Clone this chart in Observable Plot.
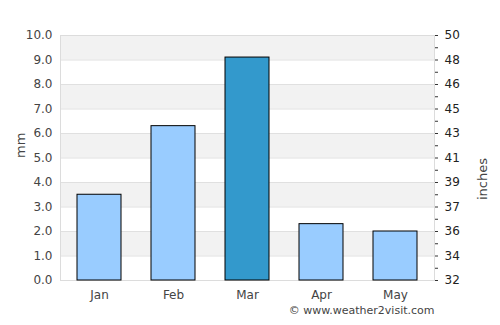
<!DOCTYPE html>
<html>
<head>
<meta charset="utf-8">
<script src="https://cdn.jsdelivr.net/npm/d3@7"></script>
<script src="https://cdn.jsdelivr.net/npm/@observablehq/plot@0.6"></script>
<style>
  html, body { margin: 0; padding: 0; background: #fff; }
  #chart { width: 500px; height: 325px; }
</style>
</head>
<body>
<div id="chart"></div>
<script>
const months = ["Jan", "Feb", "Mar", "Apr", "May"];
const rainfallMm = [3.5, 6.3, 9.1, 2.3, 2.0];
const highlightMonth = "Mar";
const mmTicks = [0, 1, 2, 3, 4, 5, 6, 7, 8, 9, 10];
const inchLabels = ["32", "34", "36", "37", "39", "41", "43", "45", "46", "48", "50"];
const minorTicks = [0.5, 1.5, 2.5, 3.5, 4.5, 5.5, 6.5, 7.5, 8.5, 9.5];
const copyright = "© www.weather2visit.com";

const data = months.map((m, i) => ({ month: m, mm: rainfallMm[i] }));
const bands = mmTicks.filter(t => t % 2 === 1).map(t => ({ y1: t, y2: t + 1 }));

const chart = Plot.plot({
  width: 500,
  height: 325,
  marginLeft: 60,
  marginRight: 66,
  marginTop: 35,
  marginBottom: 45,
  style: { fontFamily: "DejaVu Sans, sans-serif", fontSize: "12px", color: "#444", background: "#fff" },
  x: { domain: months, paddingInner: 0.4, paddingOuter: 0.2, label: null },
  y: { domain: [0, 10], label: null },
  marks: [
    Plot.rect(bands, { y1: "y1", y2: "y2", fill: "#f2f2f2" }),
    Plot.ruleY(mmTicks, { stroke: "#e0e0e0" }),
    Plot.frame({ stroke: "#dcdcdc" }),
    Plot.barY(data, {
      x: "month", y: "mm",
      fill: d => d.month === highlightMonth ? "#3399cc" : "#99ccff",
      stroke: "#000", strokeWidth: 1
    }),
    Plot.axisX({ tickSize: 0, tickPadding: 10, label: null, fill: "#444" }),
    Plot.axisY({ anchor: "left", ticks: mmTicks, tickFormat: d => d.toFixed(1), tickSize: 0, tickPadding: 8, label: null, fill: "#444" }),
    Plot.axisY({ anchor: "right", ticks: mmTicks, tickFormat: d => inchLabels[d], tickSize: 3, tickPadding: 7, label: null, fill: "#222", stroke: "#333" }),
    Plot.axisY({ anchor: "right", ticks: minorTicks, tickFormat: () => "", tickSize: 3, label: null, stroke: "#333" }),
    Plot.text(["mm"], { frameAnchor: "left", dx: -40, rotate: -90, fill: "#444", fontSize: 13, text: d => d }),
    Plot.text(["inches"], { frameAnchor: "right", dx: 48, rotate: -90, fill: "#444", fontSize: 13, text: d => d }),
    Plot.text([copyright], { frameAnchor: "bottom-right", dy: 33, textAnchor: "end", fill: "#444", fontSize: 11, text: d => d })
  ]
});
document.getElementById("chart").appendChild(chart);
</script>
</body>
</html>
